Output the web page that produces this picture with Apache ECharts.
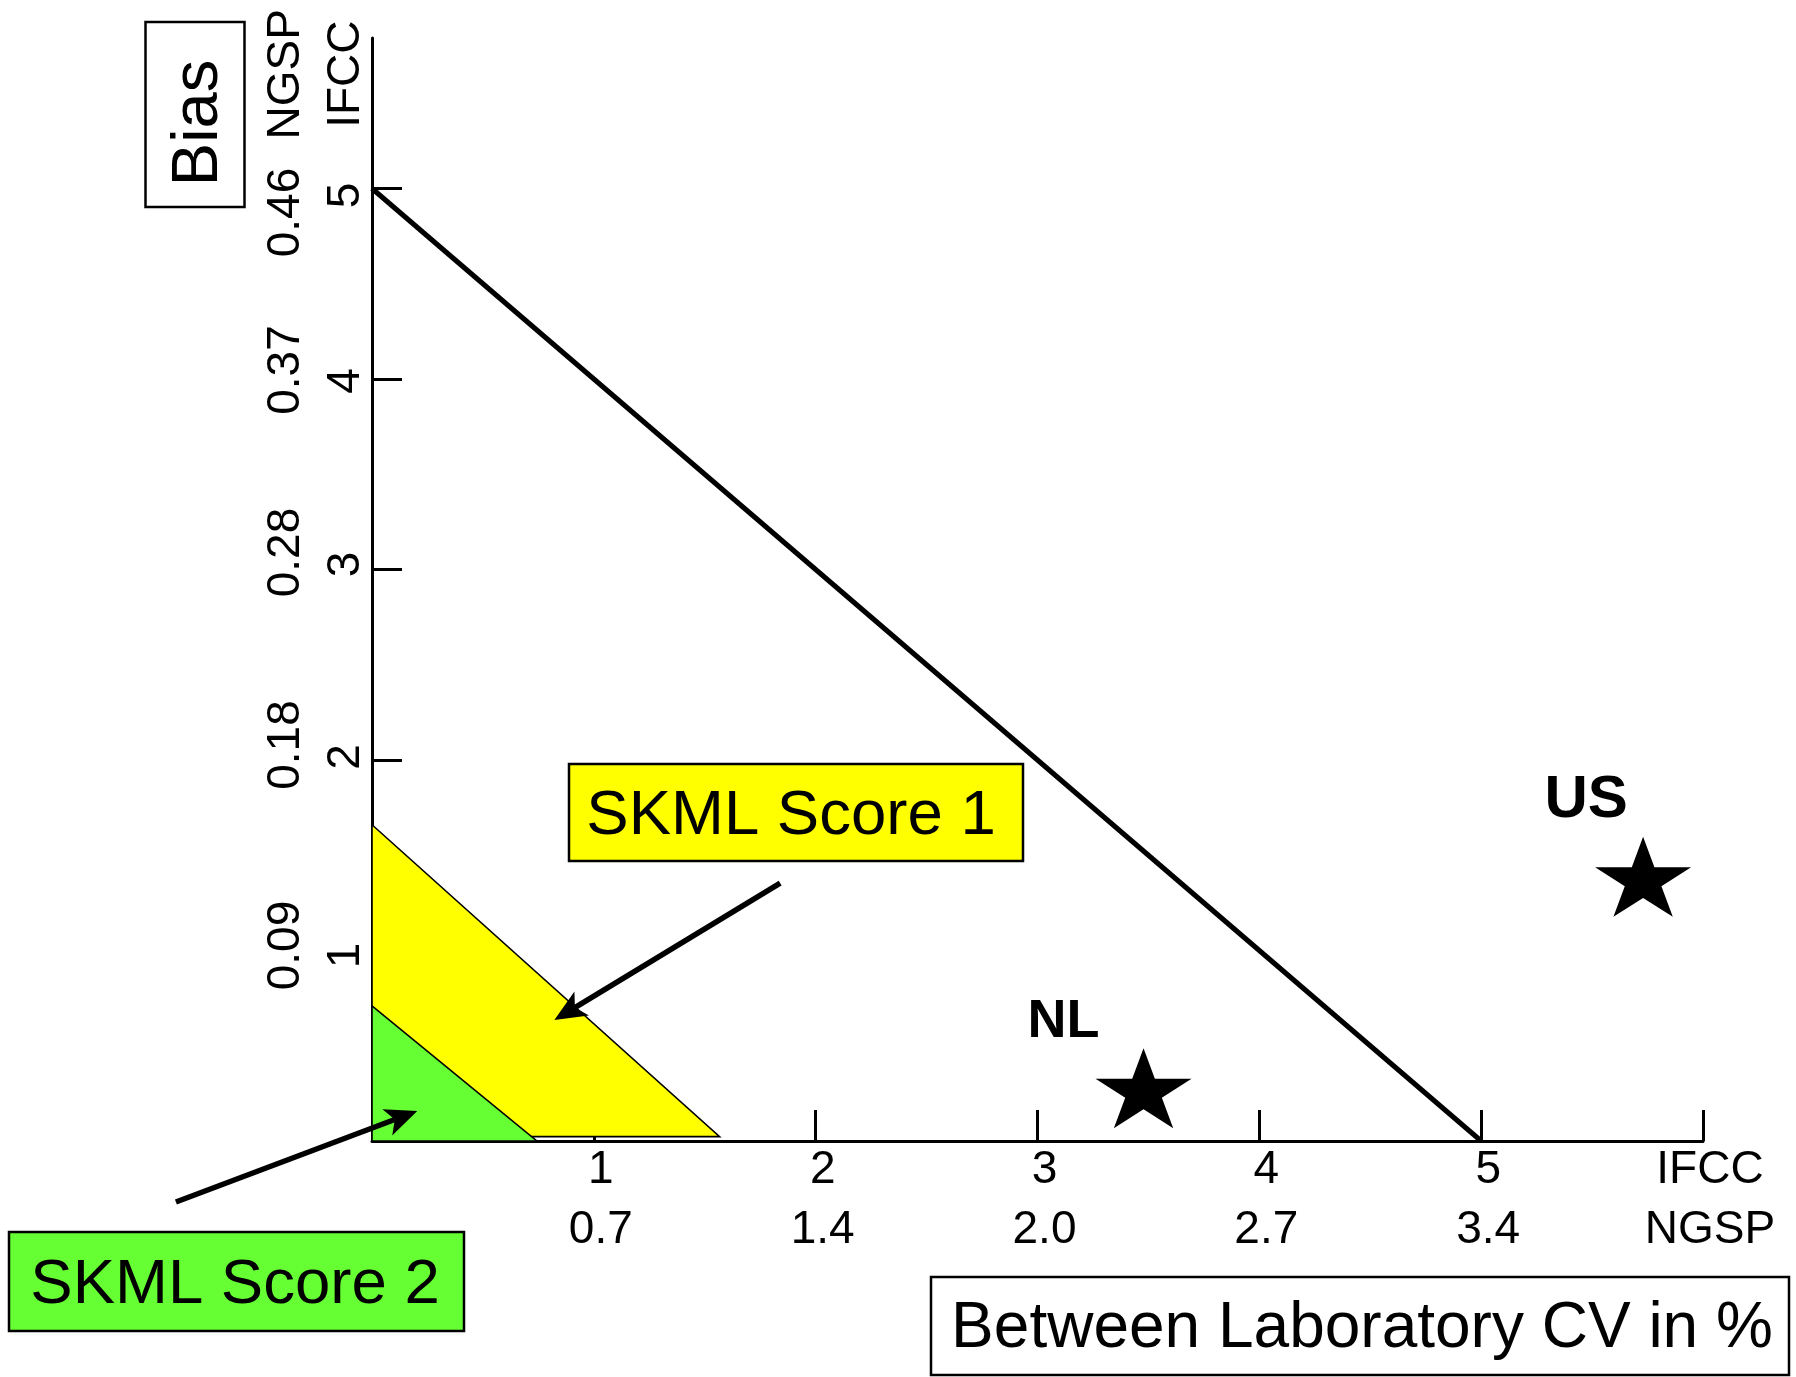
<!DOCTYPE html>
<html>
<head>
<meta charset="utf-8">
<script src="https://cdn.jsdelivr.net/npm/echarts@6/dist/echarts.min.js"></script>
<style>
html,body{margin:0;padding:0;background:#ffffff;}
#chart{width:1796px;height:1377px;}
</style>
</head>
<body>
<div id="chart"></div>
<script>
// ---------- tick labels ----------
const xTickIFCC = [1, 2, 3, 4, 5];
const xTickNGSP = ['0.7', '1.4', '2.0', '2.7', '3.4'];
const xUnitTick = 6;                 // end tick carrying the unit names
const xUnitLabel = ['IFCC', 'NGSP'];

const yTickIFCC = [1, 2, 3, 4, 5];
const yTickNGSP = ['0.09', '0.18', '0.28', '0.37', '0.46'];
const yUnitValue = 5.6;              // where the unit names sit on the y axis
const yUnitLabel = ['NGSP', 'IFCC'];

// ---------- data ----------
// limit line (between-laboratory CV vs bias)
const limitLine = [[0, 5], [5, 0]];
// SKML score zones (polygons, CV / bias)
const score1Zone = [[0, 1.66], [1.567, 0.023], [0, 0.023]];
const score2Zone = [[0, 0.709], [0.743, 0], [0, 0]];
// countries
const countryNames = ['NL', 'US'];
const countryCV = [3.478, 5.73];
const countryBias = [0.277, 1.387];
// annotation arrows [fromCV, fromBias, toCV, toBias]
const arrowScore1 = [1.84, 1.354, 0.822, 0.635];
const arrowScore2 = [-0.884, -0.32, 0.204, 0.157];

// ---------- styling ----------
const FONT = '"Liberation Sans", Arial, "Helvetica", sans-serif';
const countryLabelOffset = [[-80, -66], [-57, -76]];
const countryLabelSize = [54, 60];
const starPath = 'path://M100 0L122.45 69.1L195.1 69.1L136.3 111.8L158.8 180.9L100 138.2L41.2 180.9L63.7 111.8L4.9 69.1L77.55 69.1Z';
// hand-placed look of the rotated y labels (screen px, + = down)
const yOuterShift = [-5, -15, -17, -9, 24];
const yInnerShift = [5, -3, -5, 2, 7];

function shiftPadding(d) {
  // rotated 90deg CCW: text-frame left = screen down
  return d >= 0 ? [0, 2 * d, 0, 0] : [0, 0, 0, -2 * d];
}
const yRich = {};
yTickIFCC.forEach((v, i) => {
  yRich['o' + i] = { align: 'center', padding: shiftPadding(yOuterShift[i]) };
  yRich['i' + i] = { align: 'center', padding: shiftPadding(yInnerShift[i]) };
});
Object.keys(yRich).forEach(k => Object.assign(yRich[k], { color: '#000', fontFamily: FONT, fontSize: 46, lineHeight: 60 }));

function polygonItem(points, fill) {
  return function (params, api) {
    return {
      type: 'polygon',
      shape: { points: points.map(p => api.coord(p)) },
      style: { fill: fill, stroke: '#000', lineWidth: 1.6 }
    };
  };
}

function arrowItem(a) {
  return function (params, api) {
    const p0 = api.coord([a[0], a[1]]);
    const p1 = api.coord([a[2], a[3]]);
    const dx = p1[0] - p0[0], dy = p1[1] - p0[1];
    const len = Math.hypot(dx, dy);
    const ux = dx / len, uy = dy / len;
    const hl = 32, hw = 14, notch = 8;
    const bx = p1[0] - ux * hl, by = p1[1] - uy * hl;
    return {
      type: 'group',
      children: [
        { type: 'line', shape: { x1: p0[0], y1: p0[1], x2: bx + ux * notch, y2: by + uy * notch },
          style: { stroke: '#000', lineWidth: 5.5 } },
        { type: 'polygon', shape: { points: [
            p1,
            [bx - uy * hw, by + ux * hw],
            [bx + ux * notch, by + uy * notch],
            [bx + uy * hw, by - ux * hw]
          ] }, style: { fill: '#000' } }
      ]
    };
  };
}

const chart = echarts.init(document.getElementById('chart'), null, { renderer: 'canvas' });

const yBase = { type: 'value', min: 0, max: 5.79, position: 'left', offset: 0, splitLine: { show: false } };

const option = {
  animation: false,
  backgroundColor: '#ffffff',
  grid: { left: 372, right: 93, top: 38, bottom: 236, outerBoundsMode: 'none', containLabel: false },
  xAxis: {
    type: 'value', min: 0, max: xUnitTick,
    axisLine: { show: true, lineStyle: { color: '#000', width: 3 } },
    axisTick: { show: true, inside: true, length: 31, lineStyle: { color: '#000', width: 3 },
      customValues: xTickIFCC.concat([xUnitTick]) },
    axisLabel: {
      show: true, color: '#000', fontFamily: FONT, fontSize: 46, lineHeight: 60, margin: -1,
      padding: [0, 0, 0, 14], hideOverlap: false,
      customValues: xTickIFCC.concat([xUnitTick]),
      formatter: function (v) {
        if (v === xUnitTick) return xUnitLabel.join('\n');
        const i = xTickIFCC.indexOf(v);
        return v + '\n' + xTickNGSP[i];
      }
    },
    splitLine: { show: false }
  },
  yAxis: [
    Object.assign({}, yBase, {
      axisLine: { show: true, lineStyle: { color: '#000', width: 3 } },
      axisTick: { show: true, inside: true, length: 30, lineStyle: { color: '#000', width: 3 },
        customValues: yTickIFCC },
      axisLabel: {
        show: true, color: '#000', fontFamily: FONT, fontSize: 46, lineHeight: 60, margin: -4, rotate: 90,
        hideOverlap: false,
        customValues: yTickIFCC,
        rich: yRich,
        formatter: function (v) {
          const i = yTickIFCC.indexOf(v);
          return '{o' + i + '|' + yTickNGSP[i] + '}\n{i' + i + '|' + v + '}';
        }
      }
    }),
    // unit names at the top of the y axis
    Object.assign({}, yBase, {
      axisLine: { show: false },
      axisTick: { show: false },
      axisLabel: {
        show: true, color: '#000', fontFamily: FONT, fontSize: 46, lineHeight: 60, margin: -4, rotate: 90,
        hideOverlap: false,
        customValues: [yUnitValue],
        formatter: function () { return yUnitLabel.join('\n'); }
      }
    })
  ],
  series: [
    { type: 'custom', name: 'SKML Score 1', clip: false, data: [0], renderItem: polygonItem(score1Zone, '#FFFF00'), z: 2 },
    { type: 'custom', name: 'SKML Score 2', clip: false, data: [0], renderItem: polygonItem(score2Zone, '#66FF33'), z: 2 },
    { type: 'line', name: 'limit', data: limitLine, symbol: 'none', clip: false,
      lineStyle: { color: '#000', width: 5 }, z: 3 },
    { type: 'scatter', name: 'countries', symbol: starPath, symbolSize: [96, 80], z: 4,
      itemStyle: { color: '#000', opacity: 1 },
      data: countryNames.map((n, i) => ({
        name: n, value: [countryCV[i], countryBias[i]],
        label: { offset: countryLabelOffset[i], fontSize: countryLabelSize[i] }
      })),
      label: { show: true, position: 'inside', formatter: '{b}', color: '#000', opacity: 1,
        fontFamily: FONT, fontWeight: 'bold', align: 'center', verticalAlign: 'middle' }
    },
    { type: 'custom', name: 'arrow1', clip: false, data: [0], renderItem: arrowItem(arrowScore1), z: 5 },
    { type: 'custom', name: 'arrow2', clip: false, data: [0], renderItem: arrowItem(arrowScore2), z: 5 }
  ],
  graphic: [
    // Bias box
    { type: 'rect', shape: { x: 145.5, y: 22, width: 99, height: 185 }, style: { fill: '#fff', stroke: '#000', lineWidth: 2.5 }, z: 10 },
    { type: 'text', x: 199, y: 123, rotation: Math.PI / 2,
      style: { text: 'Bias', fill: '#000', font: '65px ' + FONT, align: 'center', verticalAlign: 'middle' }, z: 11 },
    // SKML Score 1
    { type: 'rect', shape: { x: 569, y: 764, width: 454, height: 97 }, style: { fill: '#FFFF00', stroke: '#000', lineWidth: 2.5 }, z: 10 },
    { type: 'text', x: 791, y: 816,
      style: { text: 'SKML Score 1', fill: '#000', font: '63.5px ' + FONT, align: 'center', verticalAlign: 'middle' }, z: 11 },
    // SKML Score 2
    { type: 'rect', shape: { x: 9, y: 1232, width: 455, height: 99 }, style: { fill: '#66FF33', stroke: '#000', lineWidth: 2.5 }, z: 10 },
    { type: 'text', x: 235, y: 1285,
      style: { text: 'SKML Score 2', fill: '#000', font: '63.5px ' + FONT, align: 'center', verticalAlign: 'middle' }, z: 11 },
    // x-axis title box
    { type: 'rect', shape: { x: 931, y: 1277, width: 858, height: 98 }, style: { fill: '#fff', stroke: '#000', lineWidth: 2.5 }, z: 10 },
    { type: 'text', x: 1362, y: 1329,
      style: { text: 'Between Laboratory CV in %', fill: '#000', font: '64px ' + FONT, align: 'center', verticalAlign: 'middle' }, z: 11 }
  ]
};

chart.setOption(option);
</script>
</body>
</html>
